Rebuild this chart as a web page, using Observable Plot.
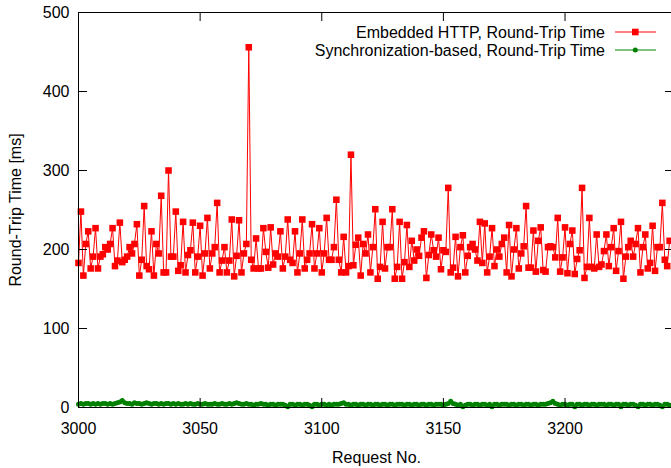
<!DOCTYPE html>
<html><head><meta charset="utf-8">
<script src="https://cdn.jsdelivr.net/npm/d3@7"></script>
<script src="https://cdn.jsdelivr.net/npm/@observablehq/plot@0.6"></script>
<style>
body{margin:0;background:#fff;font-family:"Liberation Sans",Arial,sans-serif;}
#wrap{position:relative;width:671px;height:468px;overflow:hidden;background:#fff;}
#wrap > svg.plot-chart{max-width:none !important;}
#legend{position:absolute;left:0;top:0;}
</style></head><body><div id="wrap"></div>
<script>
const requestStart = 3000;
const httpRtt = [
183,248,167,207,223,176,191,227,176,191,194,203,200,207,227,179,186,234,184,187,
191,203,195,207,232,167,187,255,179,175,223,167,207,195,268,171,171,300,191,191,
248,173,180,235,171,193,199,234,171,191,230,167,195,240,176,195,203,259,171,186,
203,171,186,238,166,192,237,171,195,207,456,187,176,214,176,176,227,197,177,228,
181,195,191,223,176,191,238,187,183,223,171,195,238,176,187,195,232,176,195,227,
171,195,240,187,187,203,263,187,171,216,171,179,320,180,206,215,167,207,195,219,
171,203,251,163,178,235,176,203,203,251,163,178,235,163,184,231,178,211,186,200,
192,215,223,164,193,219,199,191,215,175,199,197,278,171,177,216,166,203,218,171,
192,203,207,200,186,235,183,233,171,191,227,179,200,191,207,215,171,231,166,200,
227,176,195,204,255,177,177,224,172,211,228,174,172,203,204,203,190,240,172,190,
228,170,207,224,169,188,199,278,164,178,240,178,176,219,178,181,198,219,179,203,
227,173,198,235,163,191,203,211,191,207,227,171,203,219,176,183,230,173,203,203,
259,187,179,211
];
const syncRtt = [
4,5,4,5,5,4,5,4,5,4,5,5,4,5,4,5,6,7,9,6,
5,5,4,6,5,5,4,5,6,5,4,5,5,4,5,4,5,5,4,5,
4,5,4,4,5,4,5,4,4,5,4,4,5,4,4,4,5,4,4,5,
4,4,5,4,5,6,5,4,4,5,4,4,3,4,4,5,4,4,3,4,
4,3,4,4,4,3,1,4,4,3,4,4,3,4,4,3,1,4,4,3,
4,4,3,4,3,4,4,4,5,6,4,4,3,4,4,3,4,4,3,4,
4,3,4,4,3,4,4,3,4,4,3,4,4,4,3,4,4,3,4,4,
3,4,4,3,4,4,3,4,4,4,3,4,5,8,5,4,3,4,1,3,
4,4,3,4,4,3,4,4,3,4,1,4,4,3,4,4,4,3,4,4,
3,4,4,3,4,4,3,4,4,3,4,4,4,5,6,8,5,4,3,4,
4,3,4,4,1,4,4,3,4,4,3,4,4,3,4,4,4,3,4,4,
3,4,4,1,4,4,3,4,4,3,1,4,4,3,4,4,3,4,4,3,
1,4,4,3
];
const xTicks = [3000, 3050, 3100, 3150, 3200];
const yTicks = [0, 100, 200, 300, 400, 500];
const seriesNames = ["Embedded HTTP, Round-Trip Time", "Synchronization-based, Round-Trip Time"];
const seriesColors = ["#ff0000", "#008000"];
const xTitle = "Request No.";
const yTitle = "Round-Trip Time [ms]";

const W = 680, H = 468, mL = 78, mR = 6, mT = 12, mB = 61;
const xDomain = [3000, 3245], yDomain = [0, 500];
const xLen = 9 * (xDomain[1] - xDomain[0]) / (W - mL - mR);
const yLen = 9 * (yDomain[1] - yDomain[0]) / (H - mT - mB);
const http = httpRtt.map((v, i) => ({x: requestStart + i, y: v}));
const sync = syncRtt.map((v, i) => ({x: requestStart + i, y: v}));
const font = '"Liberation Sans", Arial, sans-serif';

const chart = Plot.plot({
  width: W, height: H,
  marginLeft: mL, marginRight: mR, marginTop: mT, marginBottom: mB,
  x: {domain: xDomain},
  y: {domain: yDomain},
  style: {fontFamily: font, fontSize: "16px", color: "black", background: "white", maxWidth: "none"},
  marks: [
    Plot.line(http, {x: "x", y: "y", stroke: seriesColors[0], strokeWidth: 1}),
    Plot.dot(http, {x: "x", y: "y", symbol: "square", r: 3.7, fill: seriesColors[0], stroke: "none"}),
    Plot.line(sync, {x: "x", y: "y", stroke: seriesColors[1], strokeWidth: 1}),
    Plot.dot(sync, {x: "x", y: "y", r: 2.5, fill: seriesColors[1], stroke: "none"}),
    Plot.frame({stroke: "black"}),
    Plot.ruleX(xTicks, {x: d => d, y1: 0, y2: yLen, stroke: "black"}),
    Plot.ruleX(xTicks, {x: d => d, y1: 500 - yLen, y2: 500, stroke: "black"}),
    Plot.ruleY(yTicks, {y: d => d, x1: xDomain[0], x2: xDomain[0] + xLen, stroke: "black"}),
    Plot.ruleY(yTicks, {y: d => d, x1: xDomain[1] - xLen, x2: xDomain[1], stroke: "black"}),
    Plot.axisX({ticks: xTicks, tickSize: 0, tickPadding: 15, tickFormat: d => String(d), label: null}),
    Plot.axisY({ticks: yTicks, tickSize: 0, tickPadding: 9, tickFormat: d => String(d), label: null}),
    Plot.text([xTitle], {text: d => d, frameAnchor: "bottom", textAnchor: "middle", lineAnchor: "middle", dy: 50, fill: "black"}),
    Plot.text([yTitle], {text: d => d, frameAnchor: "left", textAnchor: "middle", lineAnchor: "middle", dx: -63, rotate: -90, fill: "black"})
  ]
});
chart.style.maxWidth = "none";
chart.style.width = W + "px";
chart.style.height = H + "px";
const wrap = document.getElementById("wrap");
wrap.appendChild(chart);

// legend (key) overlay
const ns = "http://www.w3.org/2000/svg";
const lg = document.createElementNS(ns, "svg");
lg.setAttribute("id", "legend");
lg.setAttribute("width", 671); lg.setAttribute("height", 70);
seriesNames.forEach((name, i) => {
  const y = 32 + i * 18;
  const t = document.createElementNS(ns, "text");
  t.setAttribute("x", 605); t.setAttribute("y", y);
  t.setAttribute("text-anchor", "end"); t.setAttribute("dominant-baseline", "central");
  t.setAttribute("font-family", font); t.setAttribute("font-size", "16px");
  t.textContent = name; lg.appendChild(t);
  const l = document.createElementNS(ns, "line");
  l.setAttribute("x1", 615); l.setAttribute("x2", 656); l.setAttribute("y1", y); l.setAttribute("y2", y);
  l.setAttribute("stroke", seriesColors[i]); l.setAttribute("stroke-width", 1);
  lg.appendChild(l);
  if (i === 0) {
    const r = document.createElementNS(ns, "rect");
    r.setAttribute("x", 632); r.setAttribute("y", y - 3.3); r.setAttribute("width", 6.6); r.setAttribute("height", 6.6);
    r.setAttribute("fill", seriesColors[i]); lg.appendChild(r);
  } else {
    const c = document.createElementNS(ns, "circle");
    c.setAttribute("cx", 635.3); c.setAttribute("cy", y); c.setAttribute("r", 2.5);
    c.setAttribute("fill", seriesColors[i]); lg.appendChild(c);
  }
});
wrap.appendChild(lg);
</script></body></html>
